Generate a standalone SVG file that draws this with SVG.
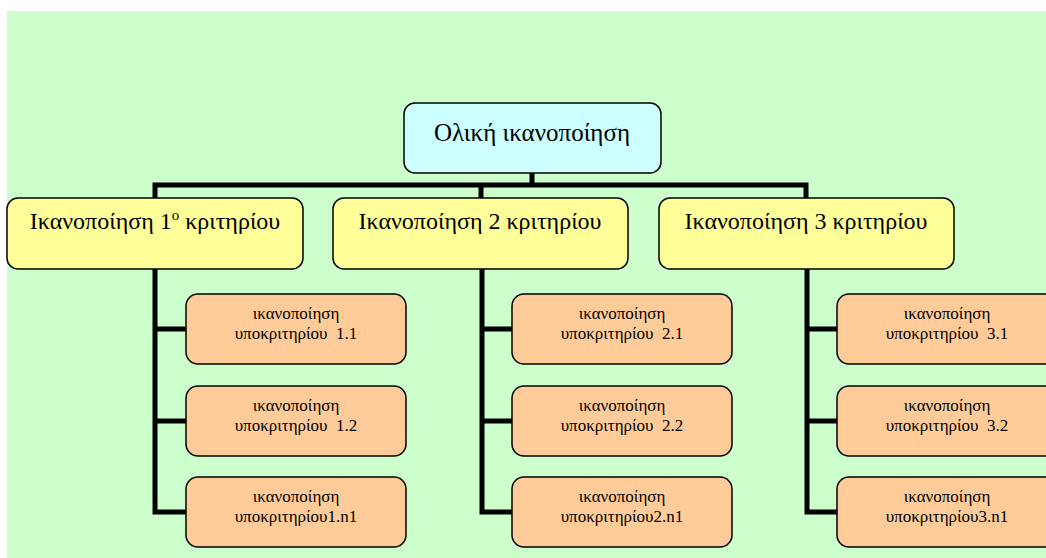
<svg xmlns="http://www.w3.org/2000/svg" width="1046" height="558" viewBox="0 0 1046 558">
<style>
  .t{font-family:"Liberation Serif","Times New Roman",serif;fill:#000;text-anchor:middle}
  .big{font-size:24px}
  .sm{font-size:17px;white-space:pre}
  .box{stroke:#000;stroke-width:1.5}
  .root{fill:#CCFFFF}
  .l1{fill:#FFFF99}
  .l2{fill:#FFCC99}
  .conn{fill:none;stroke:#000;stroke-width:5;stroke-linejoin:miter}
</style>
<rect x="7" y="11" width="1039" height="547" fill="#CCFFCC"/>
<g id="connectors">
  <path class="conn" d="M532,173 V185"/>
  <path class="conn" d="M155,198 V185 H806 V198"/>
  <path class="conn" d="M481,185 V198"/>
  <path class="conn" d="M155,269 V512 H186 M155,329 H186 M155,421 H186"/>
  <path class="conn" d="M482,269 V512 H512 M482,329 H512 M482,421 H512"/>
  <path class="conn" d="M807,269 V512 H837 M807,329 H837 M807,421 H837"/>
</g>
<g id="root">
  <rect class="box root" x="404" y="103" width="257" height="70" rx="11"/>
  <text class="t" font-size="25" x="532" y="141">Ολική ικανοποίηση</text>
</g>
<g id="c1">
  <rect class="box l1" x="7" y="198" width="296" height="71" rx="11"/>
  <text class="t big" x="155" y="229">Ικανοποίηση 1<tspan font-size="15" dy="-9">ο</tspan><tspan dy="9"> κριτηρίου</tspan></text>
</g>
<g id="c2">
  <rect class="box l1" x="333" y="198" width="295" height="71" rx="11"/>
  <text class="t big" x="480" y="229">Ικανοποίηση 2 κριτηρίου</text>
</g>
<g id="c3">
  <rect class="box l1" x="659" y="198" width="295" height="71" rx="11"/>
  <text class="t big" x="806" y="229">Ικανοποίηση 3 κριτηρίου</text>
</g>
<g id="c11">
  <rect class="box l2" x="186" y="294" width="220" height="70" rx="12"/>
  <text class="t sm" x="296" y="319">ικανοποίηση</text>
  <text class="t sm" x="296" y="339">υποκριτηρίου  1.1</text>
</g>
<g id="c12">
  <rect class="box l2" x="186" y="386" width="220" height="70" rx="12"/>
  <text class="t sm" x="296" y="411">ικανοποίηση</text>
  <text class="t sm" x="296" y="431">υποκριτηρίου  1.2</text>
</g>
<g id="c1n">
  <rect class="box l2" x="186" y="477" width="220" height="70" rx="12"/>
  <text class="t sm" x="296" y="502">ικανοποίηση</text>
  <text class="t sm" x="296" y="522">υποκριτηρίου1.n1</text>
</g>
<g id="c21">
  <rect class="box l2" x="512" y="294" width="220" height="70" rx="12"/>
  <text class="t sm" x="622" y="319">ικανοποίηση</text>
  <text class="t sm" x="622" y="339">υποκριτηρίου  2.1</text>
</g>
<g id="c22">
  <rect class="box l2" x="512" y="386" width="220" height="70" rx="12"/>
  <text class="t sm" x="622" y="411">ικανοποίηση</text>
  <text class="t sm" x="622" y="431">υποκριτηρίου  2.2</text>
</g>
<g id="c2n">
  <rect class="box l2" x="512" y="477" width="220" height="70" rx="12"/>
  <text class="t sm" x="622" y="502">ικανοποίηση</text>
  <text class="t sm" x="622" y="522">υποκριτηρίου2.n1</text>
</g>
<g id="c31">
  <rect class="box l2" x="837" y="294" width="220" height="70" rx="12"/>
  <text class="t sm" x="947" y="319">ικανοποίηση</text>
  <text class="t sm" x="947" y="339">υποκριτηρίου  3.1</text>
</g>
<g id="c32">
  <rect class="box l2" x="837" y="386" width="220" height="70" rx="12"/>
  <text class="t sm" x="947" y="411">ικανοποίηση</text>
  <text class="t sm" x="947" y="431">υποκριτηρίου  3.2</text>
</g>
<g id="c3n">
  <rect class="box l2" x="837" y="477" width="220" height="70" rx="12"/>
  <text class="t sm" x="947" y="502">ικανοποίηση</text>
  <text class="t sm" x="947" y="522">υποκριτηρίου3.n1</text>
</g>
</svg>
